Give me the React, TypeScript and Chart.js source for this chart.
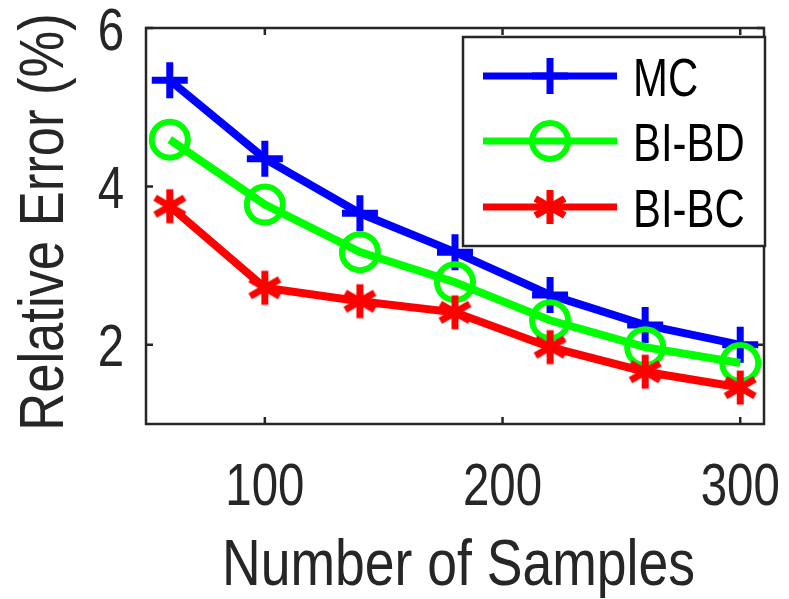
import React, { useEffect, useRef } from 'react';
import { Chart, registerables } from 'chart.js';

Chart.register(...registerables);

const samples = [60, 100, 140, 180, 220, 260, 300];
const mcErr = [5.34, 4.35, 3.66, 3.17, 2.63, 2.25, 2.0];
const bdErr = [4.59, 3.77, 3.17, 2.79, 2.31, 1.97, 1.77];
const bcErr = [3.75, 2.72, 2.55, 2.41, 1.97, 1.66, 1.46];
const xTicks = [100, 200, 300];
const yTicks = [2, 4, 6];
const seriesLabels = ['MC', 'BI-BD', 'BI-BC'];
const seriesColors = ['#0000ff', '#00ff00', '#ff0000'];
const xTitle = 'Number of Samples';
const yTitle = 'Relative Error (%)';

const FONT = "'Liberation Sans', Arial, Helvetica, sans-serif";
const AXIS = '#262626';

function drawAsterisk(ctx: CanvasRenderingContext2D, cx: number, cy: number, r: number, lw: number, color: string) {
  ctx.save();
  ctx.strokeStyle = color;
  ctx.lineWidth = lw;
  ctx.lineCap = 'butt';
  ctx.beginPath();
  for (const deg of [90, 30, 150]) {
    const a = (deg * Math.PI) / 180;
    ctx.moveTo(cx - r * Math.cos(a), cy - r * Math.sin(a));
    ctx.lineTo(cx + r * Math.cos(a), cy + r * Math.sin(a));
  }
  ctx.stroke();
  ctx.restore();
}

function makeAsterisk(r: number, lw: number, color: string) {
  const c = document.createElement('canvas');
  const s = Math.ceil(2 * r + lw + 2);
  c.width = s;
  c.height = s;
  const ctx = c.getContext('2d')!;
  drawAsterisk(ctx, s / 2, s / 2, r, lw, color);
  return c;
}

function drawCross(ctx: CanvasRenderingContext2D, cx: number, cy: number, r: number, lw: number, color: string) {
  ctx.save();
  ctx.strokeStyle = color;
  ctx.lineWidth = lw;
  ctx.beginPath();
  ctx.moveTo(cx - r, cy);
  ctx.lineTo(cx + r, cy);
  ctx.moveTo(cx, cy - r);
  ctx.lineTo(cx, cy + r);
  ctx.stroke();
  ctx.restore();
}

function drawCircle(ctx: CanvasRenderingContext2D, cx: number, cy: number, r: number, lw: number, color: string) {
  ctx.save();
  ctx.strokeStyle = color;
  ctx.lineWidth = lw;
  ctx.beginPath();
  ctx.arc(cx, cy, r, 0, Math.PI * 2);
  ctx.stroke();
  ctx.restore();
}

function squeezedText(
  ctx: CanvasRenderingContext2D,
  text: string,
  x: number,
  y: number,
  size: number,
  sx: number,
  align: CanvasTextAlign,
  rotate = 0,
  color = AXIS
) {
  ctx.save();
  ctx.translate(x, y);
  if (rotate) ctx.rotate(rotate);
  ctx.scale(sx, 1);
  ctx.font = `${size}px ${FONT}`;
  ctx.fillStyle = color;
  ctx.textAlign = align;
  ctx.textBaseline = 'alphabetic';
  ctx.fillText(text, 0, 0);
  ctx.restore();
}

const axesPlugin = {
  id: 'matlabAxes',
  afterDraw(chart: any) {
    const { ctx, chartArea } = chart;
    const { left, right, top, bottom } = chartArea;
    const xs = chart.scales.x;
    const ys = chart.scales.y;
    ctx.save();
    // tick labels via the library's scales
    xs.ticks.forEach((t: any) => {
      squeezedText(ctx, String(t.value), xs.getPixelForValue(t.value), bottom + 81, 60, 0.79, 'center');
    });
    ys.ticks.forEach((t: any) => {
      squeezedText(ctx, String(t.value), left - 22, ys.getPixelForValue(t.value) + 21.5, 60, 0.79, 'right');
    });
    squeezedText(ctx, xTitle, 458.5, 585, 65.5, 0.817, 'center');
    squeezedText(ctx, yTitle, 63, 222, 63, 0.834, 'center', -Math.PI / 2);

    // axes box with inward ticks
    ctx.strokeStyle = AXIS;
    ctx.lineWidth = 2.5;
    ctx.strokeRect(left, top, right - left, bottom - top);
    const tl = 7;
    ctx.beginPath();
    xs.ticks.forEach((t: any) => {
      const px = xs.getPixelForValue(t.value);
      ctx.moveTo(px, bottom);
      ctx.lineTo(px, bottom - tl);
      ctx.moveTo(px, top);
      ctx.lineTo(px, top + tl);
    });
    ys.ticks.forEach((t: any) => {
      const py = ys.getPixelForValue(t.value);
      ctx.moveTo(left, py);
      ctx.lineTo(left + tl, py);
      ctx.moveTo(right, py);
      ctx.lineTo(right - tl, py);
    });
    ctx.stroke();

    // legend
    const lx0 = 463, ly0 = 37, lx1 = 765, ly1 = 246;
    ctx.fillStyle = '#ffffff';
    ctx.fillRect(lx0, ly0, lx1 - lx0, ly1 - ly0);
    ctx.strokeStyle = AXIS;
    ctx.lineWidth = 2.5;
    ctx.strokeRect(lx0, ly0, lx1 - lx0, ly1 - ly0);
    const rows = [76, 141, 207];
    chart.data.datasets.forEach((ds: any, i: number) => {
      const y = rows[i];
      ctx.strokeStyle = ds.borderColor;
      ctx.lineWidth = 7;
      ctx.beginPath();
      ctx.moveTo(483, y);
      ctx.lineTo(617, y);
      ctx.stroke();
      if (i === 0) drawCross(ctx, 550, y, 18, 7, ds.borderColor);
      if (i === 1) drawCircle(ctx, 550, y, 18, 6, ds.borderColor);
      if (i === 2) drawAsterisk(ctx, 550, y, 17, 7, ds.borderColor);
      squeezedText(ctx, ds.label, 633, y + 20, 53, 0.79, 'left', 0, '#000000');
    });
    ctx.restore();
  },
};

export default function App() {
  const ref = useRef<HTMLCanvasElement | null>(null);
  useEffect(() => {
    document.body.style.margin = '0';
    const canvas = ref.current!;
    const star = makeAsterisk(17, 7, seriesColors[2]);
    const chart = new Chart(canvas, {
      type: 'line',
      data: {
        datasets: [
          {
            label: seriesLabels[0],
            data: samples.map((x, i) => ({ x, y: mcErr[i] })),
            borderColor: seriesColors[0],
            borderWidth: 8,
            pointStyle: 'cross',
            pointRadius: 18,
            pointBorderWidth: 7,
            pointBorderColor: seriesColors[0],
            pointBackgroundColor: seriesColors[0],
            order: 2,
          },
          {
            label: seriesLabels[1],
            data: samples.map((x, i) => ({ x, y: bdErr[i] })),
            borderColor: seriesColors[1],
            borderWidth: 8,
            pointStyle: 'circle',
            pointRadius: 18,
            pointBorderWidth: 6,
            pointBorderColor: seriesColors[1],
            pointBackgroundColor: 'rgba(0,0,0,0)',
            order: 1,
          },
          {
            label: seriesLabels[2],
            data: samples.map((x, i) => ({ x, y: bcErr[i] })),
            borderColor: seriesColors[2],
            borderWidth: 8,
            pointStyle: star as any,
            pointRadius: 18,
            pointBorderWidth: 7,
            pointBorderColor: seriesColors[2],
            pointBackgroundColor: seriesColors[2],
            order: 0,
          },
        ],
      },
      options: {
        animation: false,
        responsive: false,
        clip: false as any,
        layout: { padding: { left: 146, right: 16, top: 28, bottom: 175 } },
        plugins: { legend: { display: false }, tooltip: { enabled: false } },
        elements: { line: { tension: 0 } },
        scales: {
          x: {
            type: 'linear',
            min: 50,
            max: 310,
            afterBuildTicks: (s: any) => {
              s.ticks = xTicks.map((v) => ({ value: v }));
            },
            afterFit: (s: any) => {
              s.height = 0;
              s.paddingLeft = 0;
              s.paddingRight = 0;
            },
            grid: { display: false },
            border: { display: false },
            ticks: { display: false },
            title: { display: false, text: xTitle },
          },
          y: {
            type: 'linear',
            min: 1,
            max: 6,
            afterBuildTicks: (s: any) => {
              s.ticks = yTicks.map((v) => ({ value: v }));
            },
            afterFit: (s: any) => {
              s.width = 0;
              s.paddingTop = 0;
              s.paddingBottom = 0;
            },
            grid: { display: false },
            border: { display: false },
            ticks: { display: false },
            title: { display: false, text: yTitle },
          },
        },
      },
      plugins: [axesPlugin],
    });
    return () => chart.destroy();
  }, []);
  return (
    <div style={{ width: 789, height: 599, background: '#fff' }}>
      <canvas ref={ref} width={789} height={599} />
    </div>
  );
}
